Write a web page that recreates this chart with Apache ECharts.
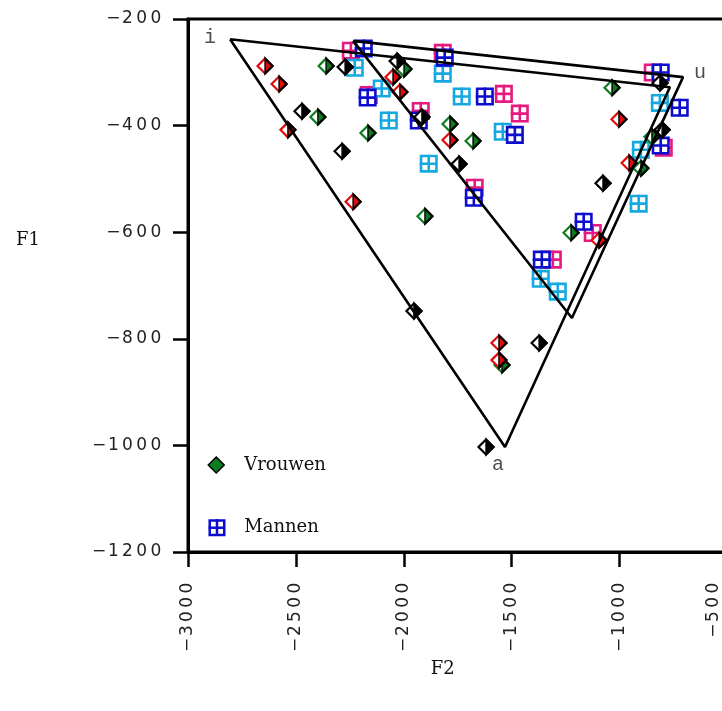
<!DOCTYPE html>
<html>
<head>
<meta charset="utf-8">
<style>
html,body{margin:0;padding:0;background:#fff;}
#chart{width:722px;height:711px;}
</style>
<script src="https://cdn.jsdelivr.net/npm/echarts@6/dist/echarts.min.js"></script>
</head>
<body>
<div id="chart"></div>
<script>
// ---- data (F2, F1 in Hz, plotted as negatives) ----
const xTicks = [-3000, -2500, -2000, -1500, -1000, -500];
const yTicks = [-1200, -1000, -800, -600, -400, -200];

// Vrouwen (women) – three colour groups
const greenF2 = [-2360, -2398, -2166, -1999, -1902, -1786, -1679, -1545, -1225, -1035, -901, -850];
const greenF1 = [-288, -384, -414, -294, -570, -397, -429, -849, -601, -329, -480, -421];
const redF2 = [-2643, -2578, -2537, -2235, -2050, -2018, -1786, -1559, -1559, -1095, -1003, -956];
const redF1 = [-288, -322, -408, -543, -309, -337, -427, -808, -840, -615, -388, -470];
const blackF2 = [-2472, -2272, -2286, -2031, -1953, -1916, -1744, -1619, -1373, -1077, -813, -803];
const blackF1 = [-373, -290, -448, -279, -748, -384, -472, -1003, -808, -508, -320, -408];

// Mannen (men) – three colour groups
const magentaF2 = [-2249, -2166, -1925, -1823, -1675, -1540, -1466, -1313, -1128, -850, -799];
const magentaF1 = [-258, -341, -371, -262, -515, -339, -376, -650, -600, -299, -440];
const cyanF2 = [-2231, -2106, -2073, -1888, -1823, -1735, -1545, -1369, -1290, -915, -905, -817];
const cyanF1 = [-290, -329, -389, -470, -301, -344, -410, -686, -710, -545, -444, -356];
const blueF2 = [-2189, -2171, -1934, -1814, -1679, -1628, -1489, -1364, -1170, -813, -725, -813];
const blueF1 = [-254, -346, -389, -271, -534, -344, -416, -650, -579, -299, -365, -436];

// vowel triangles
const triAF2 = [-2805, -767, -1531, -2805];
const triAF1 = [-238, -328, -1003, -238];
const triBF2 = [-2235, -706, -1221, -2235];
const triBF1 = [-241, -309, -761, -241];

// vowel labels
const vowelNames = ['i', 'u', 'a'];
const vowelF2 = [-2805, -706, -1531];
const vowelF1 = [-238, -309, -1003];

// ---- helpers ----
const zip = (a, b) => a.map((v, i) => [v, b[i]]);
const squarePath = 'path://M2,2H22V22H2Z M12,0V22 M0,12H22';
const halfPath = 'path://M0,0L10,10L0,20Z';
const diamondPath = 'path://M10,0L20,10L10,20L0,10Z';
const C = {
  green: '#0b7d1f', red: '#e30b0b', black: '#000000',
  magenta: '#e5197f', cyan: '#16a9e1', blue: '#0d0dcf'
};

function squareSeries(col, f2, f1) {
  return {
    name: 'Mannen', type: 'scatter', data: zip(f2, f1),
    symbol: squarePath, symbolSize: 17, z: 2,
    itemStyle: { color: '#fff', borderColor: col, borderWidth: 2.6, opacity: 1 },
    emphasis: { disabled: true }
  };
}
function diamondSeries(col, f2, f1, z) {
  return [{
    name: 'Vrouwen', type: 'scatter', data: zip(f2, f1),
    symbol: 'diamond', symbolSize: 15, z: z,
    itemStyle: { color: '#fff', borderColor: col, borderWidth: 2.2, opacity: 1 },
    emphasis: { disabled: true }
  }, {
    name: 'Vrouwen', type: 'scatter', data: zip(f2, f1),
    symbol: halfPath, symbolSize: [7.5, 15], symbolOffset: [3.75, 0], z: z,
    itemStyle: { color: col, borderColor: '#000', borderWidth: 2, opacity: 1 },
    emphasis: { disabled: true }
  }];
}

const tickFont = 'DejaVu Sans';
function spaced(v) {
  const key = (v === xTicks[xTicks.length - 1]) ? 'e' : 'c';
  return String(v).replace('-', '\u2212').split('').map(c => '{' + key + '|' + c + '}').join('');
}
const tickRich = {
  c: { width: 14.2, align: 'center', fontFamily: tickFont, fontSize: 17, color: '#222' },
  e: { width: 14.2, align: 'center', fontFamily: tickFont, fontSize: 17, color: '#222', padding: [0, 0, 28, 0] }
};

const vowelPos = [
  { position: 'left', distance: 14, offset: [0, -2] },
  { position: 'right', distance: 11, offset: [0, -4] },
  { position: 'bottom', distance: 8, offset: [-7, 0] }
];

const option = {
  animation: false,
  backgroundColor: '#fff',
  grid: {
    left: 188, top: 19, width: 539.5, height: 533,
    containLabel: false, outerBoundsMode: 'none',
    show: true, borderColor: '#000', borderWidth: 3, backgroundColor: 'transparent'
  },
  legend: {
    data: [
      { name: 'Vrouwen', icon: diamondPath, itemStyle: { color: C.green, borderColor: '#000', borderWidth: 1.5 } },
      { name: 'Mannen', icon: squarePath, itemStyle: { color: '#fff', borderColor: C.blue, borderWidth: 2.5 } }
    ],
    orient: 'vertical', left: 207, top: 455, padding: 0,
    itemWidth: 16, itemHeight: 16, itemGap: 42,
    selectedMode: false,
    formatter: name => '{p|}' + name,
    textStyle: {
      fontFamily: 'DejaVu Serif', fontSize: 18, color: '#111', lineHeight: 20,
      rich: { p: { width: 15 } }
    }
  },
  xAxis: {
    type: 'value', min: -3000, max: -500, interval: 500,
    name: 'F2', nameLocation: 'middle', nameGap: 106,
    nameTextStyle: { fontFamily: 'DejaVu Serif', fontSize: 18, color: '#111', padding: [0, 30, 0, 0] },
    axisLine: { show: true, onZero: false, lineStyle: { color: '#000', width: 3 } },
    axisTick: { show: true, length: 15, lineStyle: { color: '#000', width: 2.5 } },
    splitLine: { show: false },
    axisLabel: { rotate: 90, margin: 29, formatter: spaced, rich: tickRich, hideOverlap: false }
  },
  yAxis: {
    type: 'value', min: -1200, max: -200, interval: 200,
    name: 'F1', nameLocation: 'middle', nameRotate: 0, nameGap: 148,
    nameTextStyle: { fontFamily: 'DejaVu Serif', fontSize: 18, color: '#111', verticalAlign: 'bottom', padding: [0, 0, 36, 0] },
    axisLine: { show: true, onZero: false, lineStyle: { color: '#000', width: 3 } },
    axisTick: { show: true, length: 15, lineStyle: { color: '#000', width: 2.5 } },
    splitLine: { show: false },
    axisLabel: { margin: 25, formatter: spaced, rich: tickRich }
  },
  series: [
    squareSeries(C.magenta, magentaF2, magentaF1),
    squareSeries(C.cyan, cyanF2, cyanF1),
    squareSeries(C.blue, blueF2, blueF1),
    ...diamondSeries(C.green, greenF2, greenF1, 3),
    ...diamondSeries(C.black, blackF2, blackF1, 4),
    ...diamondSeries(C.red, redF2, redF1, 5),
    {
      name: 'triA', type: 'line', data: zip(triAF2, triAF1), symbol: 'none', z: 6,
      lineStyle: { color: '#000', width: 2.6 }, emphasis: { disabled: true }
    },
    {
      name: 'triB', type: 'line', data: zip(triBF2, triBF1), symbol: 'none', z: 6,
      lineStyle: { color: '#000', width: 2.6 }, emphasis: { disabled: true }
    },
    {
      name: 'vowels', type: 'scatter', symbolSize: 0, z: 7,
      data: vowelNames.map((n, i) => ({
        name: n, value: [vowelF2[i], vowelF1[i]],
        label: Object.assign({ show: true, formatter: n }, vowelPos[i])
      })),
      label: { fontFamily: 'Liberation Mono', fontSize: 20, color: '#222' },
      emphasis: { disabled: true }
    }
  ]
};

const chart = echarts.init(document.getElementById('chart'), null, { renderer: 'canvas' });
chart.setOption(option);
</script>
</body>
</html>
